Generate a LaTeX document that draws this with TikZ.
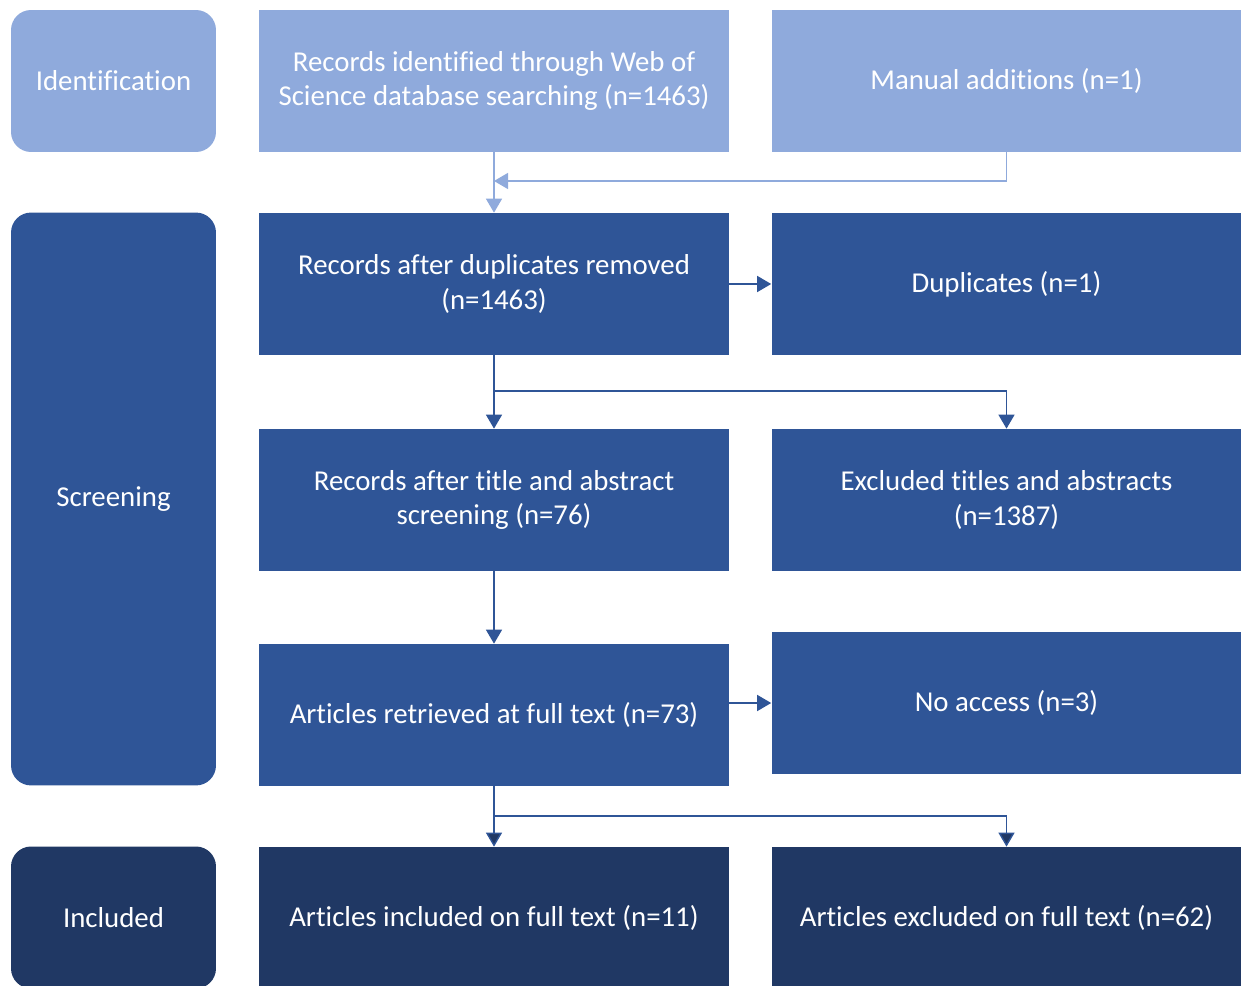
\documentclass[tikz,border=0pt]{standalone}
\usepackage{fontspec}
\setmainfont{Carlito}[Ligatures={NoCommon}]
\usepackage{xcolor}
\definecolor{prisma-light}{HTML}{8FAADC}
\definecolor{prisma-main}{HTML}{2F5597}
\definecolor{prisma-dark}{HTML}{203864}
\usetikzlibrary{arrows.meta,calc}

\begin{document}
\begin{tikzpicture}[x=0.02cm, y=-0.02cm,
    box/.style={rectangle, minimum width=9.4cm, minimum height=2.84cm, inner sep=0pt,
                align=center, text=white, font=\fontsize{16.4pt}{19.4pt}\selectfont},
    phase/.style={box, rounded corners=0.4cm, minimum width=4.1cm},
    link/.style={line width=0.8pt, -{Triangle[length=0.28cm, width=0.32cm]}}]

    % Frame
    \useasboundingbox (0, 0) rectangle (1241, 986);

    % Phases
    \node[phase, fill=prisma-light] (ident) at (113.5, 81) {Identification};
    \node[phase, fill=prisma-main, minimum height=11.46cm] (screen) at (113.5, 499) {Screening};
    \node[phase, fill=prisma-dark] (incl) at (113.5, 917.5) {Included};

    % Identification
    \node[box, fill=prisma-light] (webofsci) at (494, 81) {Records identified through Web of\\Science database searching (n=1463)};
    \node[box, fill=prisma-light] (manual) at (1006.5, 81) {Manual additions (n=1)};

    % Screening
    \node[box, fill=prisma-main] (nodup) at (494, 284) {Records after duplicates removed\\(n=1463)};
    \node[box, fill=prisma-main] (dups) at (1006.5, 284) {Duplicates (n=1)};
    \node[box, fill=prisma-main] (titles) at (494, 500) {Records after title and abstract\\screening (n=76)};
    \node[box, fill=prisma-main] (exclabs) at (1006.5, 500) {Excluded titles and abstracts\\(n=1387)};
    \node[box, fill=prisma-main] (fulltext) at (494, 715) {Articles retrieved at full text (n=73)};
    \node[box, fill=prisma-main] (noaccess) at (1006.5, 703) {No access (n=3)};

    % Included
    \node[box, fill=prisma-dark] (inclfull) at (494, 918) {Articles included on full text (n=11)};
    \node[box, fill=prisma-dark] (exclfull) at (1006.5, 918) {Articles excluded on full text (n=62)};

    % Junctions
    \coordinate (merge) at (494, 181);
    \coordinate (split1) at (494, 391);
    \coordinate (split2) at (494, 816);

    % Connectors
    \draw[link, prisma-light] (webofsci.south) -- (nodup.north);
    \draw[link, prisma-light] (manual.south) |- (merge);
    \draw[link, prisma-main] (nodup.east) -- (dups.west);
    \draw[link, prisma-main] (nodup.south) -- (titles.north);
    \draw[link, prisma-main] (split1) -| (exclabs.north);
    \draw[link, prisma-main] (titles.south) -- (fulltext.north);
    \draw[link, prisma-main] (noaccess.west -| fulltext.east) -- (noaccess.west);
    \draw[link, prisma-main, -{Triangle[length=0.28cm, width=0.32cm, fill=prisma-dark]}] (fulltext.south) -- (inclfull.north);
    \draw[link, prisma-main, -{Triangle[length=0.28cm, width=0.32cm, fill=prisma-dark]}] (split2) -| (exclfull.north);

\end{tikzpicture}
\end{document}
